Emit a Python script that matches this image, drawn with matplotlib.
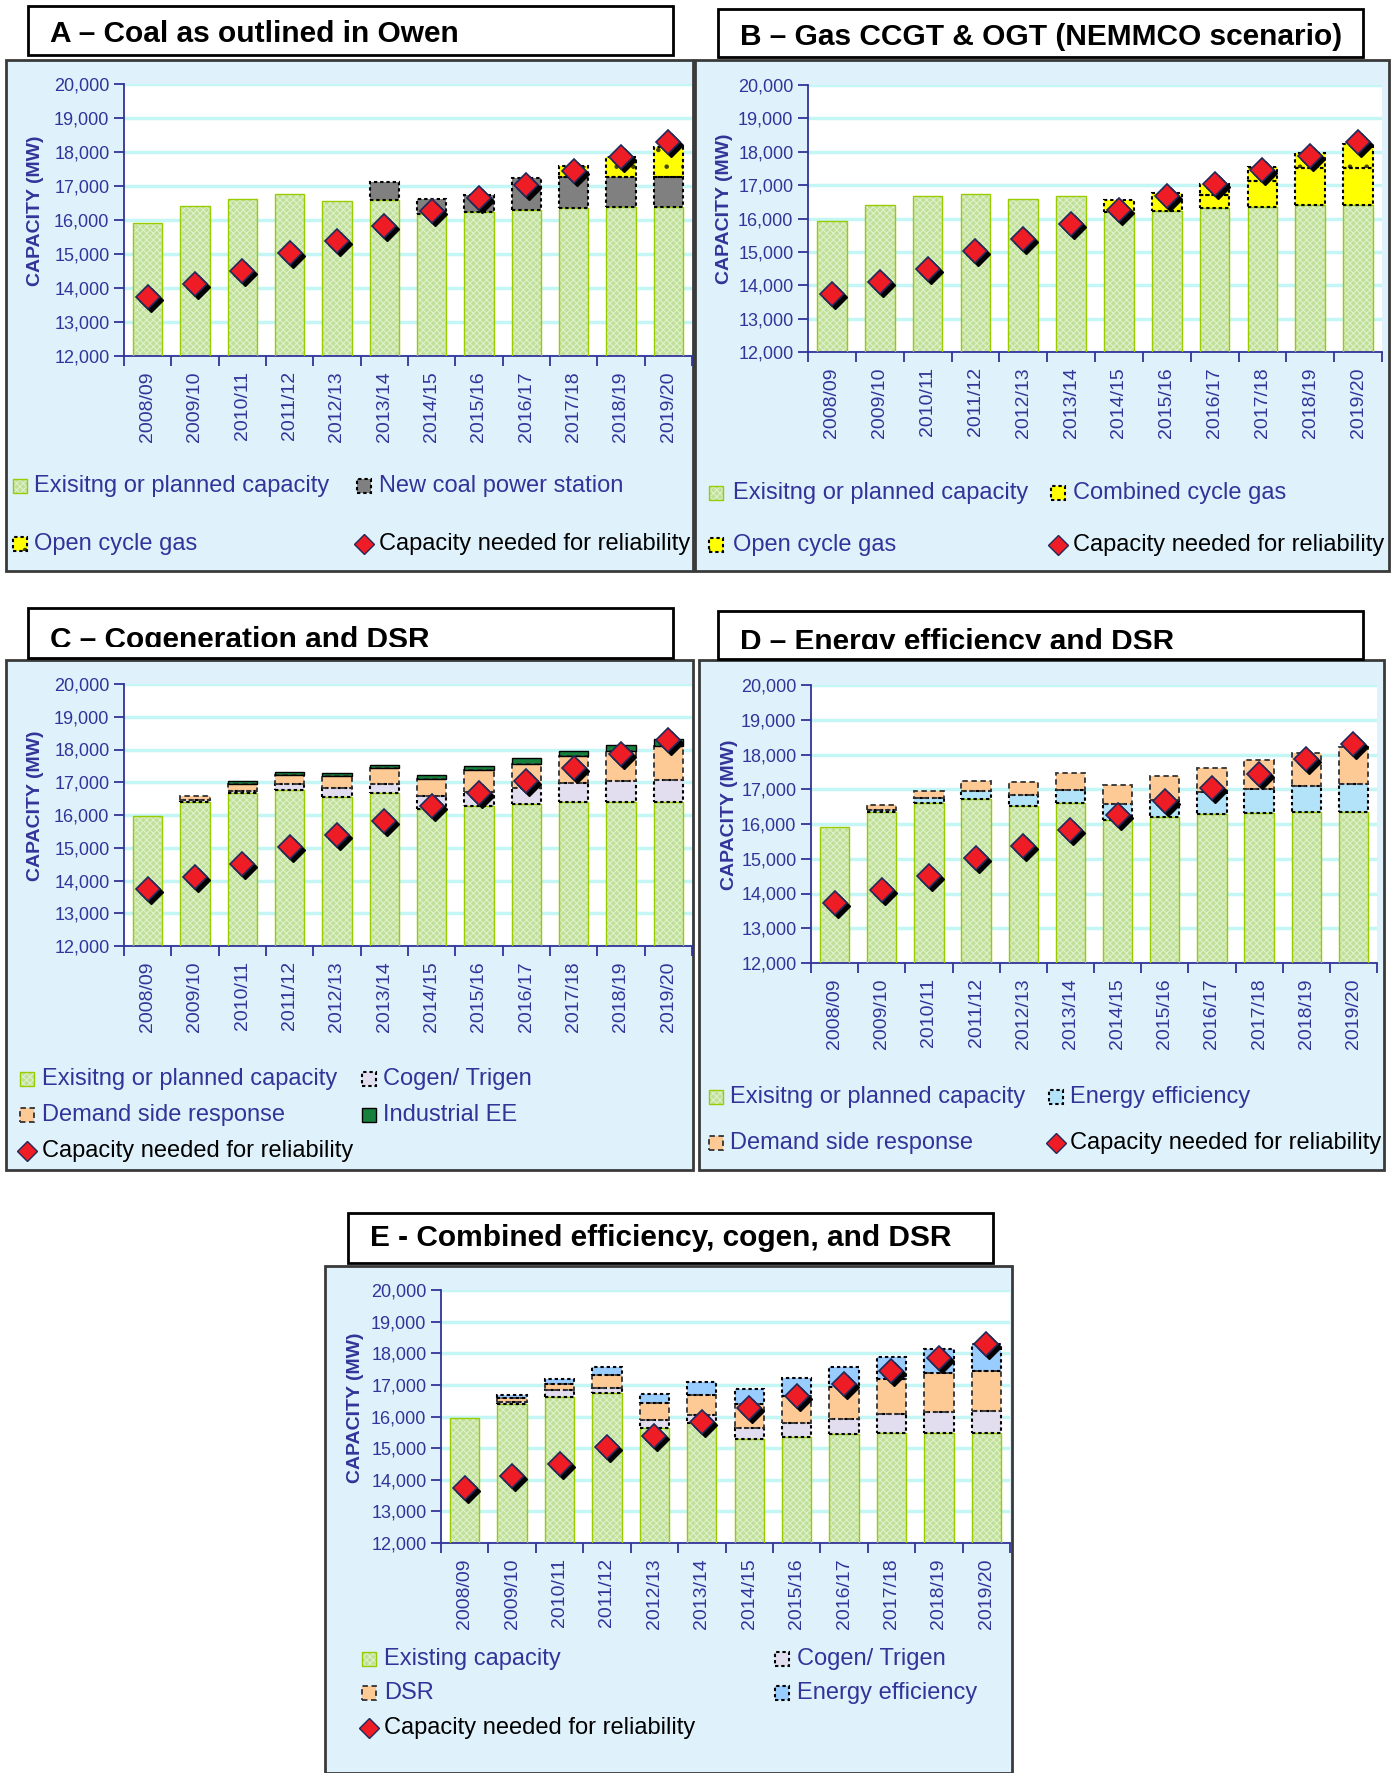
import numpy as np
import matplotlib
matplotlib.use('Agg')
import matplotlib.pyplot as plt
from matplotlib.patches import Rectangle
from matplotlib.lines import Line2D
from matplotlib.transforms import offset_copy
from matplotlib.ticker import FuncFormatter, FixedLocator

# capacity outlook, MW
years = ['2008/09', '2009/10', '2010/11', '2011/12', '2012/13', '2013/14',
         '2014/15', '2015/16', '2016/17', '2017/18', '2018/19', '2019/20']
reliability = [13740, 14110, 14500, 15030, 15380, 15830, 16260, 16660, 17030, 17440, 17860, 18300]

# A - coal
a_existing = [15925, 16405, 16630, 16755, 16570, 16600, 16190, 16245, 16295, 16345, 16385, 16385]
a_coal     = [0, 0, 0, 0, 0, 505, 415, 480, 930, 925, 885, 885]
a_ocgt     = [0, 0, 0, 0, 0, 0, 0, 0, 0, 310, 595, 885]

# B - gas
b_existing = [15940, 16400, 16670, 16735, 16580, 16670, 16200, 16210, 16300, 16345, 16400, 16400]
b_ccgt     = [0, 0, 0, 0, 0, 0, 350, 560, 410, 780, 1115, 1115]
b_ocgt     = [0, 0, 0, 0, 0, 0, 0, 0, 315, 425, 455, 725]

# C - cogeneration and DSR
c_existing = [15955, 16410, 16660, 16750, 16555, 16660, 16180, 16260, 16350, 16385, 16410, 16410]
c_cogen    = [0, 40, 80, 200, 270, 290, 400, 430, 480, 580, 620, 655]
c_dsr      = [0, 115, 215, 285, 375, 480, 530, 680, 740, 825, 910, 1045]
c_iee      = [0, 0, 70, 70, 90, 90, 100, 115, 170, 170, 205, 205]

# D - energy efficiency and DSR
d_existing = [15910, 16355, 16600, 16710, 16525, 16600, 16125, 16200, 16285, 16305, 16335, 16335]
d_ee       = [0, 55, 140, 235, 310, 375, 445, 485, 635, 690, 745, 830]
d_dsr      = [0, 140, 210, 295, 370, 490, 565, 690, 690, 840, 955, 1060]

# E - combined
e_existing = [15955, 16395, 16625, 16740, 15640, 15790, 15295, 15355, 15435, 15470, 15470, 15470]
e_cogen    = [0, 55, 205, 175, 255, 255, 335, 440, 495, 600, 660, 695]
e_dsr      = [0, 140, 200, 405, 530, 635, 765, 865, 1005, 1100, 1250, 1270]
e_ee       = [0, 80, 160, 255, 290, 405, 485, 545, 615, 705, 750, 865]

W, H = 1392, 1773
NAVY = '#333399'
BG = '#dff2fb'
WIDTH = 0.62
DOT = (0, (1.6, 1.4))

plt.rcParams['font.family'] = ['Liberation Sans', 'DejaVu Sans']
plt.rcParams['hatch.linewidth'] = 0.8

STY = {
    'existing': dict(face='#bfe097', hatch='xxxxx', hcolor='#dff0cb', edge='#99cc00', ls='-', lw=1.0),
    'coal':     dict(face='#808080', edge='black', ls=DOT, lw=1.5),
    'ocgt':     dict(face='#ffff00', hatch='.', hcolor='#444400', edge='black', ls=DOT, lw=1.5),
    'ccgt':     dict(face='#ffff00', edge='black', ls=DOT, lw=1.5),
    'cogen':    dict(face='#e3deef', edge='black', ls=DOT, lw=1.5),
    'dsr':      dict(face='#fdca96', edge='#333333', ls=(0, (3, 2)), lw=1.3),
    'iee':      dict(face='#17803c', edge='black', ls='-', lw=1.0),
    'ee_d':     dict(face='#b3e3f9', edge='black', ls=DOT, lw=1.5),
    'ee_e':     dict(face='#99ccff', edge='black', ls=DOT, lw=1.5),
}

fig = plt.figure(figsize=(W / 100, H / 100), dpi=100)


def frect(x0, y0, x1, y1, **kw):
    r = Rectangle((x0 / W, 1 - y1 / H), (x1 - x0) / W, (y1 - y0) / H,
                  transform=fig.transFigure, **kw)
    fig.add_artist(r)
    return r


def segment(ax, x, vals, bottom, st):
    vals = np.asarray(vals, float)
    m = vals > 0
    ax.bar(x[m], vals[m], WIDTH, bottom=bottom[m], color=st['face'], hatch=st.get('hatch'),
           edgecolor=st.get('hcolor', st['face']), linewidth=0, zorder=2)
    ax.bar(x[m], vals[m], WIDTH, bottom=bottom[m], fill=False, edgecolor=st['edge'],
           linestyle=st['ls'], linewidth=st['lw'], zorder=3)


def legend_item(cx, cy, tx, label, key):
    if key == 'rel':
        fig.add_artist(Line2D([cx / W], [1 - cy / H], marker='D', ms=10, mfc='#ee1c25',
                              mec='#1f2a5a', mew=1.0, transform=fig.transFigure))
        color = 'black'
    else:
        st = STY[key]
        s = 7
        frect(cx - s, cy - s, cx + s, cy + s, facecolor=st['face'], hatch=st.get('hatch'),
              edgecolor=st.get('hcolor', st['face']), linewidth=0, zorder=3)
        frect(cx - s, cy - s, cx + s, cy + s, fill=False, edgecolor=st['edge'],
              linestyle=st['ls'], linewidth=st['lw'], zorder=4)
        color = NAVY
    fig.text(tx / W, 1 - cy / H, label, fontsize=17, color=color, va='center', ha='left')


def panel(title, tbox, tbase, pbox, abox, ylab_x, stacks, legend, clip=None):
    frect(*pbox, facecolor=BG, edgecolor='#3a3a3a', linewidth=2, zorder=-1)
    frect(*tbox, facecolor='white', edgecolor='black', linewidth=2, zorder=1)
    fig.text(tbox[0] / W + 22 / W, 1 - tbase / H, title, fontsize=21.5, fontweight='bold',
             va='baseline', ha='left', zorder=2)
    if clip is not None:
        frect(tbox[0] + 2, clip, tbox[2] - 2, tbox[3] - 1.5, facecolor='white',
              edgecolor='none', zorder=3)

    x0, y0, x1, y1 = abox
    ax = fig.add_axes([x0 / W, 1 - y1 / H, (x1 - x0) / W, (y1 - y0) / H])
    ax.set_facecolor('white')
    x = np.arange(len(years))
    bottom = np.zeros(len(years))
    for vals, key in stacks:
        segment(ax, x, vals, bottom, STY[key])
        bottom = bottom + np.asarray(vals, float)

    shadow = offset_copy(ax.transData, fig=fig, x=3, y=-3, units='dots')
    ax.plot(x, reliability, 'D', ms=12.5, color='black', transform=shadow, zorder=4, clip_on=False)
    ax.plot(x, reliability, 'D', ms=12.5, mfc='#ee1c25', mec='#1f2a5a', mew=1.2,
            zorder=5, clip_on=False)

    ax.set_xlim(-0.5, len(years) - 0.5)
    ax.set_ylim(12000, 20000)
    ax.set_yticks(np.arange(12000, 20001, 1000))
    ax.yaxis.set_major_formatter(FuncFormatter(lambda v, p: f'{int(v):,}'))
    ax.yaxis.grid(True, color='#c4f6f6', linewidth=2.5)
    ax.set_axisbelow(True)
    for s in ('top', 'right'):
        ax.spines[s].set_visible(False)
    for s in ('left', 'bottom'):
        ax.spines[s].set_color(NAVY)
        ax.spines[s].set_linewidth(1.3)
    ax.set_xticks(x)
    ax.set_xticklabels(years, rotation=90, fontsize=14, color=NAVY)
    ax.xaxis.set_minor_locator(FixedLocator(np.arange(-0.5, len(years), 1)))
    ax.tick_params(axis='x', which='major', length=0, pad=11)
    ax.tick_params(axis='x', which='minor', length=7, width=1.3, color=NAVY, direction='out')
    ax.tick_params(axis='y', length=7, width=1.3, color=NAVY, labelcolor=NAVY, labelsize=13)
    ax.set_ylabel('CAPACITY (MW)', fontsize=14, fontweight='bold', color=NAVY)
    ax.yaxis.set_label_coords(ylab_x, 0.535)

    for cx, cy, tx, label, key in legend:
        legend_item(cx, cy, tx, label, key)
    return ax


panel('A \u2013 Coal as outlined in Owen', (28, 6, 673, 55), 42, (6, 60, 693, 571),
      (124, 84, 692, 356), -0.141,
      [(a_existing, 'existing'), (a_coal, 'coal'), (a_ocgt, 'ocgt')],
      [(20, 486, 34, 'Exisitng or planned capacity', 'existing'),
       (364, 486, 379, 'New coal power station', 'coal'),
       (20, 544, 34, 'Open cycle gas', 'ocgt'),
       (364, 544, 379, 'Capacity needed for reliability', 'rel')])

panel('B \u2013 Gas CCGT & OGT (NEMMCO scenario)', (718, 9, 1363, 57), 45, (695, 60, 1389, 571),
      (808, 85, 1382, 352), -0.130,
      [(b_existing, 'existing'), (b_ccgt, 'ccgt'), (b_ocgt, 'ocgt')],
      [(716, 493, 733, 'Exisitng or planned capacity', 'existing'),
       (1058, 493, 1073, 'Combined cycle gas', 'ccgt'),
       (716, 545, 733, 'Open cycle gas', 'ocgt'),
       (1058, 545, 1073, 'Capacity needed for reliability', 'rel')])

panel('C \u2013 Cogeneration and DSR', (28, 608, 673, 658), 648, (6, 660, 693, 1170),
      (124, 684, 692, 946), -0.141,
      [(c_existing, 'existing'), (c_cogen, 'cogen'), (c_dsr, 'dsr'), (c_iee, 'iee')],
      [(27, 1079, 42, 'Exisitng or planned capacity', 'existing'),
       (369, 1079, 383, 'Cogen/ Trigen', 'cogen'),
       (27, 1115, 42, 'Demand side response', 'dsr'),
       (369, 1115, 383, 'Industrial EE', 'iee'),
       (27, 1151, 42, 'Capacity needed for reliability', 'rel')],
      clip=647)

panel('D \u2013 Energy efficiency and DSR', (718, 611, 1363, 659), 650, (699, 660, 1384, 1170),
      (811, 685, 1377, 963), -0.129,
      [(d_existing, 'existing'), (d_ee, 'ee_d'), (d_dsr, 'dsr')],
      [(716, 1097, 730, 'Exisitng or planned capacity', 'existing'),
       (1056, 1097, 1070, 'Energy efficiency', 'ee_d'),
       (716, 1143, 730, 'Demand side response', 'dsr'),
       (1056, 1143, 1070, 'Capacity needed for reliability', 'rel')],
      clip=649)

panel('E - Combined efficiency, cogen, and DSR', (348, 1213, 993, 1263), 1246,
      (325, 1266, 1012, 1773), (441, 1290, 1010, 1543), -0.136,
      [(e_existing, 'existing'), (e_cogen, 'cogen'), (e_dsr, 'dsr'), (e_ee, 'ee_e')],
      [(369, 1659, 384, 'Existing capacity', 'existing'),
       (782, 1659, 797, 'Cogen/ Trigen', 'cogen'),
       (369, 1693, 384, 'DSR', 'dsr'),
       (782, 1693, 797, 'Energy efficiency', 'ee_e'),
       (369, 1728, 384, 'Capacity needed for reliability', 'rel')])

fig.savefig('out.png', dpi=100, facecolor='white')
